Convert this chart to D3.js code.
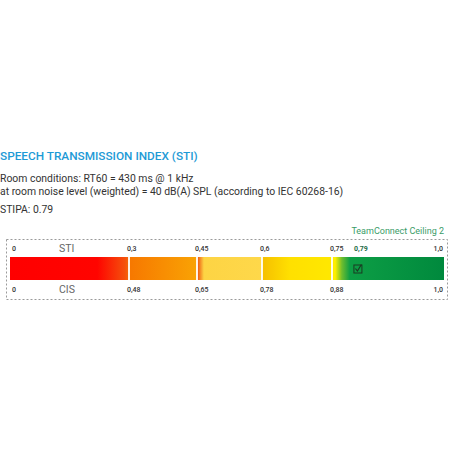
<!DOCTYPE html>
<html><head><meta charset="utf-8">
<script src="https://cdn.jsdelivr.net/npm/d3@7"></script>
<style>body{margin:0;background:#fff}svg{display:block}</style>
</head><body>
<script>
// ---- data ----
const stiTicks = [0, 0.3, 0.45, 0.6, 0.75, 1.0];
const stiTickLabels = ["0", "0,3", "0,45", "0,6", "0,75", "1,0"];
const cisTickLabels = ["0", "0,48", "0,65", "0,78", "0,88", "1,0"];
const dividers = [0.3, 0.45, 0.6, 0.75];
const stipaValue = 0.79;
const stipaLabel = "0,79";
const productName = "TeamConnect Ceiling 2";
const titleText = "SPEECH TRANSMISSION INDEX (STI)";
const infoLines = ["Room conditions: RT60 = 430 ms @ 1 kHz",
  "at room noise level (weighted) = 40 dB(A) SPL (according to IEC 60268-16)"];
const stipaText = "STIPA: 0.79";
const gradStops = [[0,"#ff0000"],[0.22,"#ff0400"],[0.29,"#f5500c"],[0.3,"#f56a06"],
  [0.302,"#f77800"],[0.45,"#f9a304"],[0.452,"#ee5a12"],[0.466,"#fdd444"],[0.6,"#fed84a"],
  [0.602,"#f6c000"],[0.66,"#ffe000"],[0.75,"#ffe800"],[0.757,"#fff000"],[0.772,"#6fbd2e"],
  [0.79,"#0d9e45"],[1.0,"#00893d"]];

const W = 450, H = 450;
const svg = d3.select("body").append("svg").attr("width", W).attr("height", H);
const font = "Roboto, 'Helvetica Neue', Arial, sans-serif";

const x = d3.scaleLinear().domain(stiTicks).range([10, 129, 197, 262, 332, 444]);
const barTop = 257, barH = 23;

// texts
svg.append("text").attr("x", 0).attr("y", 160).text(titleText)
  .attr("font-family", font).attr("font-size", 11.8).attr("font-weight", 500)
  .attr("fill", "#1d9ad6");
infoLines.forEach((t, i) => svg.append("text").attr("x", 0).attr("y", 182 + i * 13).text(t)
  .attr("font-family", font).attr("font-size", 10.4).attr("fill", "#333"));
svg.append("text").attr("x", 0).attr("y", 213).text(stipaText)
  .attr("font-family", font).attr("font-size", 10.4).attr("fill", "#333");
svg.append("text").attr("x", 444).attr("y", 234).attr("text-anchor", "end").text(productName)
  .attr("font-family", font).attr("font-size", 9).attr("fill", "#3a9c68");

// dotted frame
svg.append("rect").attr("x", 6.5).attr("y", 239.5).attr("width", 441).attr("height", 60)
  .attr("fill", "none").attr("stroke", "#9a9a9a").attr("stroke-dasharray", "2,2");

// gradient
const defs = svg.append("defs");
const g = defs.append("linearGradient").attr("id", "sti").attr("gradientUnits", "userSpaceOnUse")
  .attr("x1", x(0)).attr("x2", x(1)).attr("y1", 0).attr("y2", 0);
g.selectAll("stop").data(gradStops).join("stop")
  .attr("offset", d => (x(d[0]) - x(0)) / (x(1) - x(0)))
  .attr("stop-color", d => d[1]);

svg.append("rect").attr("x", x(0)).attr("y", barTop).attr("width", x(1) - x(0)).attr("height", barH)
  .attr("fill", "url(#sti)");
svg.selectAll("line.div").data(dividers).join("line").attr("class", "div")
  .attr("x1", d => x(d)).attr("x2", d => x(d)).attr("y1", barTop).attr("y2", barTop + barH)
  .attr("stroke", "#fff").attr("stroke-width", 1.8);

// tick labels
const tickAnchor = (d, i) => i === stiTicks.length - 1 ? "end" : "start";
const tickX = (d, i) => i === stiTicks.length - 1 ? x(d) - 1 : (i === 0 ? x(d) + 2 : x(d) - 2);
svg.selectAll("text.sti").data(stiTicks).join("text").attr("class", "sti")
  .attr("x", tickX).attr("y", 251).attr("text-anchor", tickAnchor)
  .text((d, i) => stiTickLabels[i]).attr("font-family", font).attr("font-size", 7)
  .attr("font-weight", 500).attr("fill", "#333");
svg.selectAll("text.cis").data(stiTicks).join("text").attr("class", "cis")
  .attr("x", tickX).attr("y", 292).attr("text-anchor", tickAnchor)
  .text((d, i) => cisTickLabels[i]).attr("font-family", font).attr("font-size", 7)
  .attr("font-weight", 500).attr("fill", "#333");
svg.append("text").attr("x", 59).attr("y", 252).text("STI")
  .attr("font-family", font).attr("font-size", 10.5).attr("fill", "#666");
svg.append("text").attr("x", 59).attr("y", 293).text("CIS")
  .attr("font-family", font).attr("font-size", 10.5).attr("fill", "#666");

// STIPA marker
const mx = x(stipaValue) + 8;
svg.append("text").attr("x", mx - 4).attr("y", 251).text(stipaLabel)
  .attr("font-family", font).attr("font-size", 7).attr("font-weight", 700).attr("fill", "#1d6b45");
svg.append("rect").attr("x", mx - 4).attr("y", 265).attr("width", 8).attr("height", 8)
  .attr("fill", "none").attr("stroke", "#1a3a22").attr("stroke-width", 1);
svg.append("path").attr("d", `M${mx - 2.5},${268.5} L${mx - 0.5},${271} L${mx + 3.5},${264.5}`)
  .attr("fill", "none").attr("stroke", "#1a3a22").attr("stroke-width", 1.2);
</script>
</body></html>
